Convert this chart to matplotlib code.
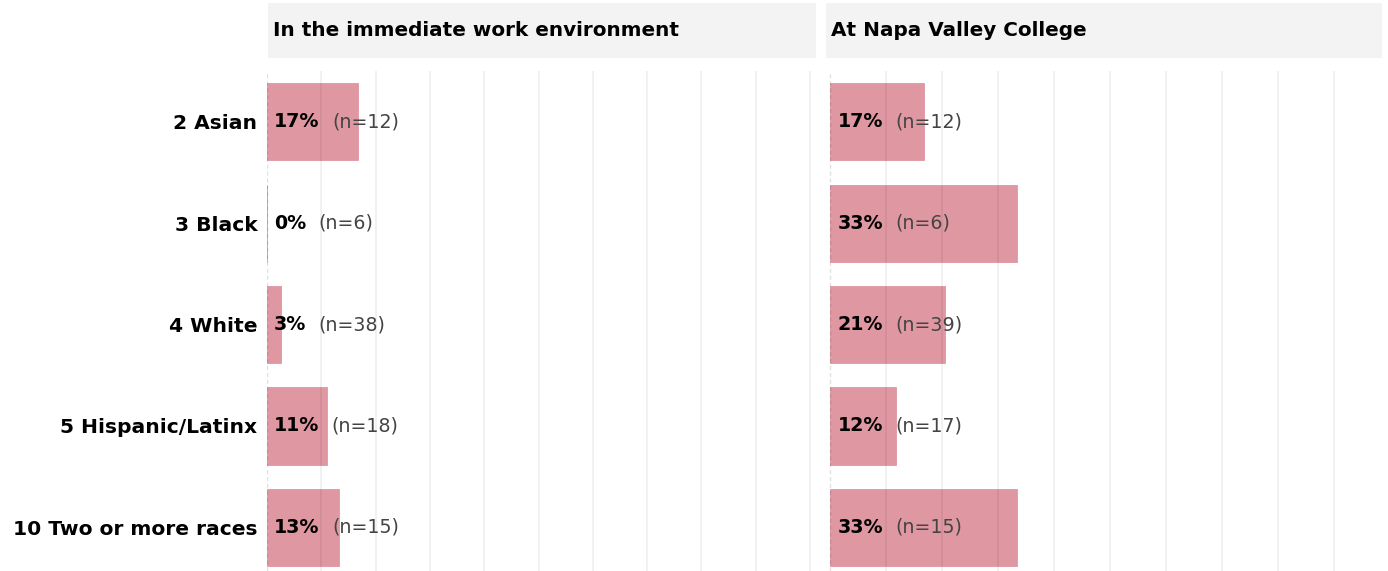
import matplotlib.pyplot as plt
import matplotlib.patches as mpatches

categories = ["2 Asian", "3 Black", "4 White", "5 Hispanic/Latinx", "10 Two or more races"]
panel_titles = ["In the immediate work environment", "At Napa Valley College"]

# percent values
work_pct = [16.7, 0.0, 2.6, 11.1, 13.3]
work_n = [12, 6, 38, 18, 15]
nvc_pct = [16.7, 33.3, 20.5, 11.8, 33.3]
nvc_n = [12, 6, 39, 17, 15]

W, H = 1388, 571
fig = plt.figure(figsize=(W / 100, H / 100), dpi=100)

bar_color = "#df97a2"
strip_color = "#f3f3f3"


def fx(px):
    return px / W


def fy(py):
    return 1 - py / H


# axes boxes in pixels: left, right, xlim
panels = [
    (267, 816, (0, 101.1), work_pct, work_n),
    (826, 1382, (-0.8, 98.6), nvc_pct, nvc_n),
]
strips = [(268, 816), (826, 1382)]

for i, (x0, x1, xlim, pct, n) in enumerate(panels):
    ax = fig.add_axes([fx(x0), 0, fx(x1 - x0), fy(71)])
    ypos = list(range(len(categories)))
    ax.barh(ypos, pct, height=0.76, color=bar_color, zorder=1,
            edgecolor=bar_color, linewidth=0.6)
    # grid sits on top of the bars, faintly
    for x in range(10, 101, 10):
        ax.axvline(x, color="black", alpha=0.07, lw=1.1, zorder=2)
    ax.axvline(0, color="black", alpha=0.12, lw=1, ls=(0, (3, 2)), zorder=2)
    ax.set_xlim(*xlim)
    ax.set_ylim(4.43, -0.5)
    for sp in ax.spines.values():
        sp.set_visible(False)
    ax.set_xticks([])
    ax.tick_params(axis="y", length=0, pad=7)
    if i == 0:
        ax.set_yticks(ypos)
        ax.set_yticklabels(categories, fontsize=14.6, fontweight="bold", color="black")
    else:
        ax.set_yticks([])
    for y, v, k in zip(ypos, pct, n):
        t = ax.annotate(f"{int(v + 0.5)}%", xy=(0, y), xytext=(5, 0), textcoords="offset points",
                        ha="left", va="center", fontsize=13.7, fontweight="bold", color="black",
                        zorder=3)
        ax.annotate(f"(n={k})", xy=(1, 0.5), xycoords=t, xytext=(9, 0), textcoords="offset points",
                    ha="left", va="center", fontsize=13.7, color="#444444", zorder=3)

    sx0, sx1 = strips[i]
    fig.patches.append(mpatches.Rectangle((fx(sx0), fy(58)), fx(sx1 - sx0), fy(3) - fy(58),
                                          transform=fig.transFigure, facecolor=strip_color,
                                          edgecolor="none", zorder=0))
    fig.text(fx(sx0 + 5), fy(31), panel_titles[i], ha="left", va="center",
             fontsize=14.4, fontweight="bold", color="black")

fig.savefig("out.png", dpi=100)
